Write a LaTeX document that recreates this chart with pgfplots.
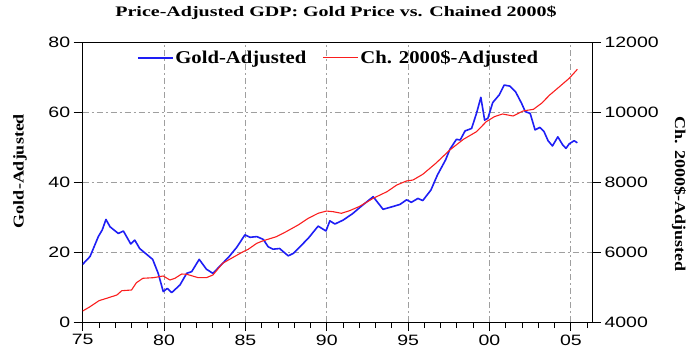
\documentclass[border=0pt]{standalone}
\usepackage{fontspec}
\usepackage{pgfplots}
\pgfplotsset{compat=1.18}
\usepackage{pgfplotstable}
\setmainfont{Liberation Serif}
\newfontfamily\titlefont[FakeStretch=1.38]{Liberation Serif}
\newfontfamily\legfont[FakeStretch=1.15]{Liberation Serif}
\newfontfamily\labfont[FakeStretch=1.2]{Liberation Serif}
\newfontfamily\tickfont[FakeStretch=1.3]{Liberation Sans}

\pgfplotstableread{
x y
75.0 16.5
75.45 18.7
75.96 24.4
76.2 26.3
76.43 29.3
76.68 27.2
77.19 25.3
77.5 26.0
77.95 22.3
78.2 23.4
78.5 21.0
79.3 17.9
79.64 13.9
79.95 8.7
80.2 9.6
80.47 8.4
80.98 10.6
81.39 13.9
81.7 14.4
82.16 17.9
82.6 15.1
83.0 13.9
83.4 15.8
84.0 18.7
84.46 21.3
84.97 24.9
85.28 24.2
85.7 24.4
86.1 23.6
86.4 21.5
86.7 20.8
87.1 21.0
87.63 18.9
87.94 19.6
88.35 21.5
88.86 23.9
89.47 27.4
89.95 26.0
90.19 28.9
90.5 28.0
91.0 29.1
91.6 31.0
92.1 33.0
92.85 35.8
93.46 32.2
94.07 33.0
94.5 33.6
94.9 34.9
95.2 34.2
95.6 35.3
95.9 34.7
96.4 37.7
96.8 42.0
97.3 46.3
97.56 49.3
97.97 52.2
98.2 52.0
98.5 54.6
98.9 55.3
99.2 59.6
99.47 64.2
99.7 57.7
99.9 58.2
100.2 62.7
100.6 64.9
100.9 67.7
101.25 67.4
101.6 65.8
101.97 62.5
102.2 60.1
102.5 59.6
102.8 54.9
103.1 55.6
103.35 54.4
103.6 51.8
103.87 50.3
104.2 52.9
104.5 50.6
104.7 49.6
104.9 50.9
105.2 51.8
105.4 51.2
}\golddata

\pgfplotstableread{
x y
75.0 4314
75.45 4437
76.0 4609
76.47 4677
77.1 4771
77.4 4894
78.0 4914
78.3 5123
78.7 5249
79.34 5266
79.95 5314
80.36 5200
80.67 5249
81.08 5371
81.4 5363
82.1 5266
82.6 5266
83.0 5343
83.6 5677
84.25 5849
84.86 6009
85.17 6077
85.7 6249
86.1 6323
86.9 6437
87.5 6580
88.24 6771
88.86 6963
89.47 7106
89.98 7171
90.4 7151
90.9 7106
91.4 7180
92.0 7300
92.85 7534
93.7 7723
94.3 7914
94.9 8029
95.3 8057
95.9 8220
96.7 8534
97.56 8914
98.4 9220
99.2 9437
99.8 9723
100.3 9866
100.8 9943
101.45 9886
102.06 10029
102.7 10077
103.2 10249
103.7 10486
104.3 10723
104.9 10963
105.4 11220
}\chaindata

\definecolor{goldblue}{RGB}{30,30,245}
\definecolor{chred}{RGB}{250,30,30}

\begin{document}
\begin{tikzpicture}
\path[use as bounding box] (-82.7pt,-29pt) rectangle (608.3pt,322pt);
\pgfplotsset{
  common/.style={
    width=509.3pt, height=280pt, scale only axis,
    xmin=75, xmax=106.3,
    axis line style={black, line width=1pt},
    tick align=outside,
    major tick length=9pt, minor tick length=6pt,
    tick style={black, line width=0.9pt},
    tick label style={font=\tickfont\fontsize{15}{15}\selectfont},
    scaled y ticks=false, scaled x ticks=false,
  }
}
\begin{axis}[common,
  ymin=0, ymax=80,
  xtick={75,80,85,90,95,100,105},
  xticklabels={75,80,85,90,95,00,05},
  minor xtick={76,77,78,79,81,82,83,84,86,87,88,89,91,92,93,94,96,97,98,99,101,102,103,104,106},
  xtick pos=bottom, ytick pos=left,
  ytick={0,20,40,60,80},
  yticklabels={0,20,40,60,80},
  grid=major,
  major grid style={gray!75, line width=0.9pt, dash pattern=on 6pt off 3pt on 2pt off 3pt},
  legend style={at={(0.5026,0.943)}, anchor=center, draw=none, fill=none,
    font=\legfont\bfseries\fontsize{18}{18}\selectfont,
    /tikz/every even column/.append style={column sep=14pt}},
  legend columns=2,
]
\addplot[goldblue, line width=1.6pt, line join=round, forget plot] table[x=x,y=y] {\golddata};
\addlegendimage{legend image code/.code={\draw[draw=goldblue, line width=1.1pt] (0pt,0pt) -- (35pt,0pt);}}
\addlegendentry{Gold-Adjusted}
\addlegendimage{legend image code/.code={\draw[draw=chred, line width=1pt] (0pt,0pt) -- (35pt,0pt);}}
\addlegendentry{Ch. 2000\$-Adjusted}
\end{axis}
\begin{axis}[common,
  ymin=4000, ymax=12000,
  axis x line=none,
  axis y line*=right,
  ytick={4000,6000,8000,10000,12000},
  yticklabels={4000,6000,8000,10000,12000},
]
\addplot[chred, line width=1.1pt, line join=round] table[x=x,y=y] {\chaindata};
\end{axis}
\node[anchor=base] at (253.3pt,305pt) {\titlefont\bfseries\fontsize{14.5}{14.5}\selectfont Price-Adjusted GDP: Gold Price vs. Chained 2000\$};
\node[rotate=90] at (-62.7pt,151pt) {\labfont\bfseries\fontsize{15}{15}\selectfont Gold-Adjusted};
\node[rotate=-90] at (596.3pt,128pt) {\labfont\bfseries\fontsize{15}{15}\selectfont Ch. 2000\$-Adjusted};
\end{tikzpicture}
\end{document}
